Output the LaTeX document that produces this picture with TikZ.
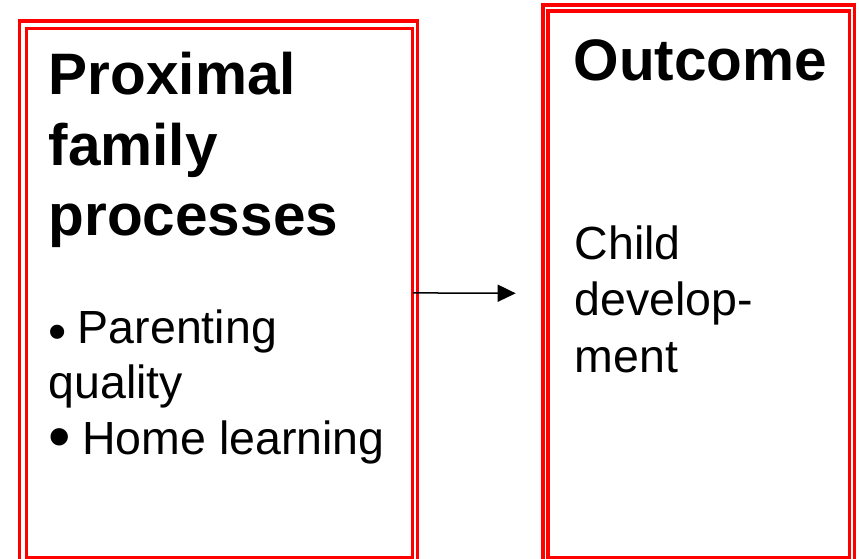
\documentclass[tikz,border=0pt]{standalone}
\usepackage{fontspec}
\setmainfont{Liberation Sans}
\usetikzlibrary{arrows.meta}

\tikzset{
    redline/.style={draw=red, line width=3.1pt, inner sep=0pt, outer sep=0pt, anchor=north west},
    headtext/.style={black, font=\fontsize{58.5}{70}\selectfont\bfseries, anchor=base west, inner sep=0pt},
    bodytext/.style={black, font=\fontsize{46.5}{56}\selectfont, anchor=base west, inner sep=0pt},
    arrowline/.style={black, line width=1.5pt, -{Triangle[length=18pt, width=17pt]}}
}

\begin{document}
\begin{tikzpicture}[x=1pt, y=-1pt]
        \useasboundingbox (0, 0) rectangle (859, 559);

        % left box
        \node [redline, minimum width=397.7pt, minimum height=590pt] (proxouter) at (19.5, 21) {};
        \node [redline, minimum width=386.6pt, minimum height=528.8pt] (proxinner) at (26.2, 28.5) {};
        % right box
        \node [redline, minimum width=311.7pt, minimum height=600pt] (outouter) at (543, 5) {};
        \node [redline, minimum width=301.5pt, minimum height=546.3pt] (outinner) at (548, 11) {};

        \draw (48.5, 95) node[headtext] (proximal) {Proximal};
        \draw (48.5, 165) node[headtext] (family) {family};
        \draw (48.5, 235) node[headtext] (processes) {processes};
        \draw (48.5, 343) node[bodytext] (parenting) {\raisebox{-6pt}{\fontsize{52}{52}\selectfont\textbullet}\hspace{11pt}Parenting};
        \draw (48.5, 398.5) node[bodytext] (quality) {quality};
        \draw (48.5, 454) node[bodytext] (homelearning) {\raisebox{-4pt}{\fontsize{64}{64}\selectfont\textbullet}\hspace{11pt}Home learning};

        \draw (573.5, 81) node[headtext] (outcome) {Outcome};
        \draw (574.5, 259) node[bodytext] (child) {Child};
        \draw (574.5, 315.5) node[bodytext] (develop) {develop-};
        \draw (574.5, 372) node[bodytext] (ment) {ment};

        \coordinate (arrowtip) at (515.7, 293.3);
        \draw [arrowline] (proxinner.east) -- (arrowtip);
\end{tikzpicture}
\end{document}
